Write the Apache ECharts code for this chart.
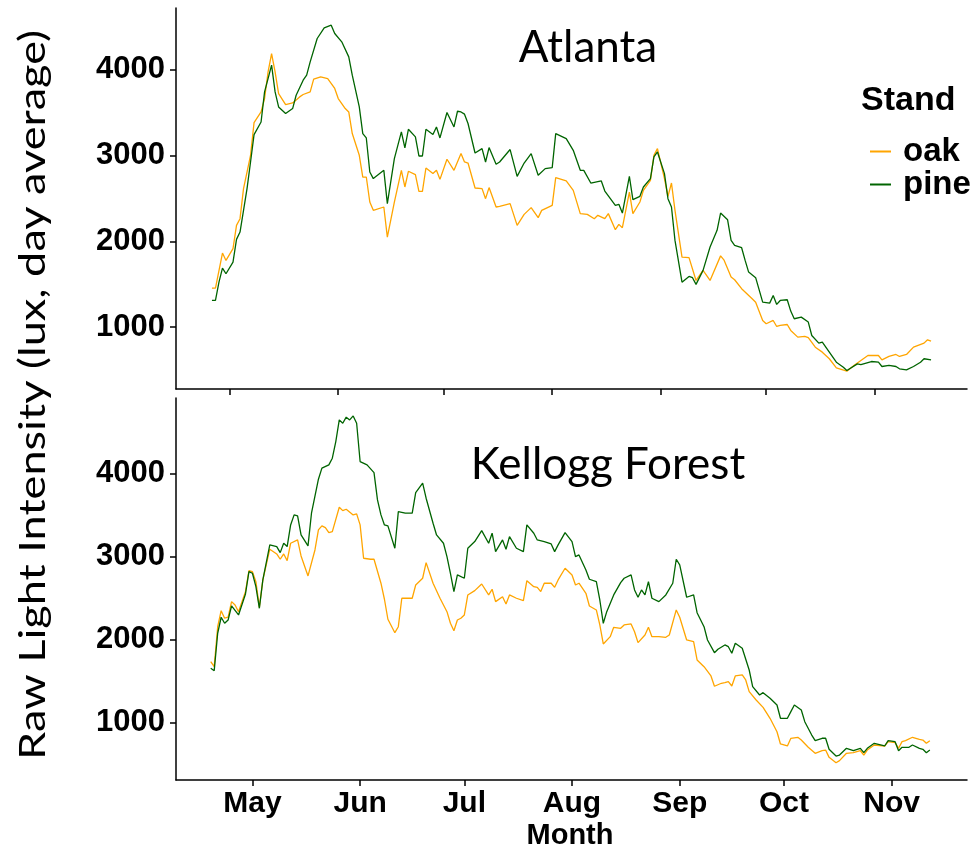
<!DOCTYPE html>
<html>
<head>
<meta charset="utf-8">
<script src="https://cdn.jsdelivr.net/npm/echarts@6/dist/echarts.min.js"></script>
<style>html,body{margin:0;padding:0;background:#fff}#c{width:976px;height:853px}</style>
</head>
<body>
<div id="c"></div>
<script>
// ---- data (day-average raw light intensity, lux) ----
const monthTickDates = ['2019-05-01','2019-06-01','2019-07-01','2019-08-01','2019-09-01','2019-10-01','2019-11-01'];
const monthTickLabels = ['May','Jun','Jul','Aug','Sep','Oct','Nov'];
const yTickValues = [1000, 2000, 3000, 4000];
const panelTitles = ['Atlanta', 'Kellogg Forest'];
const standNames = ['oak', 'pine'];

const atlantaOak = [
['2019-04-26',1455],['2019-04-27',1455],['2019-04-29',1863],['2019-04-30',1777],['2019-05-02',1914],['2019-05-03',2185],
['2019-05-04',2263],['2019-05-05',2613],['2019-05-07',3001],['2019-05-08',3382],['2019-05-10',3506],['2019-05-11',3662],
['2019-05-12',3972],['2019-05-13',4186],['2019-05-14',3972],['2019-05-15',3720],['2019-05-17',3592],['2019-05-19',3611],
['2019-05-21',3681],['2019-05-22',3709],['2019-05-24',3739],['2019-05-25',3887],['2019-05-27',3914],['2019-05-29',3895],
['2019-05-31',3779],['2019-06-01',3662],['2019-06-03',3545],['2019-06-04',3506],['2019-06-05',3254],['2019-06-07',3001],
['2019-06-08',2748],['2019-06-09',2748],['2019-06-10',2457],['2019-06-11',2360],['2019-06-14',2399],['2019-06-15',2049],
['2019-06-17',2457],['2019-06-19',2826],['2019-06-20',2632],['2019-06-21',2815],['2019-06-23',2776],['2019-06-24',2582],
['2019-06-25',2582],['2019-06-26',2853],['2019-06-28',2788],['2019-06-29',2826],['2019-06-30',2721],['2019-07-02',2955],
['2019-07-04',2826],['2019-07-06',3021],['2019-07-07',2923],['2019-07-08',2911],['2019-07-10',2620],['2019-07-12',2613],
['2019-07-13',2496],['2019-07-14',2625],['2019-07-16',2399],['2019-07-17',2407],['2019-07-20',2438],['2019-07-22',2185],
['2019-07-24',2313],['2019-07-26',2392],['2019-07-28',2275],['2019-07-29',2360],['2019-08-01',2418],['2019-08-02',2741],
['2019-08-05',2702],['2019-08-07',2593],['2019-08-09',2322],['2019-08-11',2313],['2019-08-13',2263],['2019-08-14',2302],
['2019-08-16',2263],['2019-08-17',2322],['2019-08-19',2135],['2019-08-20',2197],['2019-08-21',2158],['2019-08-23',2573],
['2019-08-24',2322],['2019-08-26',2457],['2019-08-27',2593],['2019-08-29',2710],['2019-08-30',3001],['2019-08-31',3079],
['2019-09-02',2730],['2019-09-03',2523],['2019-09-04',2678],['2019-09-05',2360],['2019-09-07',1816],['2019-09-09',1809],
['2019-09-11',1544],['2019-09-13',1661],['2019-09-15',1544],['2019-09-18',1830],['2019-09-19',1780],['2019-09-21',1583],
['2019-09-22',1552],['2019-09-24',1448],['2019-09-27',1331],['2019-09-28',1291],['2019-09-30',1078],['2019-10-01',1040],
['2019-10-03',1078],['2019-10-04',1008],['2019-10-05',1020],['2019-10-07',1031],['2019-10-08',962],['2019-10-10',884],
['2019-10-12',892],['2019-10-13',877],['2019-10-15',767],['2019-10-17',709],['2019-10-19',632],['2019-10-21',527],
['2019-10-24',487],['2019-10-26',554],['2019-10-28',612],['2019-10-30',670],['2019-11-02',670],['2019-11-03',620],
['2019-11-05',659],['2019-11-07',682],['2019-11-08',659],['2019-11-10',682],['2019-11-12',767],['2019-11-15',814],
['2019-11-16',853],['2019-11-17',837]
];
const atlantaPine = [
['2019-04-26',1311],['2019-04-27',1311],['2019-04-28',1524],['2019-04-29',1688],['2019-04-30',1622],['2019-05-02',1758],
['2019-05-03',2022],['2019-05-04',2107],['2019-05-06',2613],['2019-05-07',2923],['2019-05-08',3242],['2019-05-10',3389],
['2019-05-11',3739],['2019-05-13',4050],['2019-05-14',3739],['2019-05-15',3564],['2019-05-17',3487],['2019-05-19',3545],
['2019-05-20',3700],['2019-05-22',3875],['2019-05-23',3934],['2019-05-24',4089],['2019-05-26',4361],['2019-05-28',4485],
['2019-05-30',4516],['2019-05-31',4419],['2019-06-02',4322],['2019-06-04',4147],['2019-06-05',3934],['2019-06-07',3564],
['2019-06-08',3254],['2019-06-09',3203],['2019-06-10',2807],['2019-06-11',2730],['2019-06-14',2826],['2019-06-15',2438],
['2019-06-17',2963],['2019-06-19',3273],['2019-06-20',3087],['2019-06-21',3304],['2019-06-23',3215],['2019-06-24',2993],
['2019-06-25',2993],['2019-06-26',3304],['2019-06-28',3242],['2019-06-29',3331],['2019-06-30',3203],['2019-07-02',3499],
['2019-07-04',3331],['2019-07-05',3514],['2019-07-06',3506],['2019-07-07',3480],['2019-07-08',3371],['2019-07-10',3028],
['2019-07-12',3079],['2019-07-13',2923],['2019-07-14',3091],['2019-07-16',2896],['2019-07-17',2923],['2019-07-20',3068],
['2019-07-22',2756],['2019-07-24',2911],['2019-07-26',3021],['2019-07-28',2768],['2019-07-30',2846],['2019-08-01',2858],
['2019-08-02',3254],['2019-08-05',3196],['2019-08-07',3059],['2019-08-09',2826],['2019-08-10',2826],['2019-08-12',2678],
['2019-08-15',2702],['2019-08-16',2585],['2019-08-19',2418],['2019-08-20',2430],['2019-08-21',2329],['2019-08-23',2756],
['2019-08-24',2484],['2019-08-26',2523],['2019-08-27',2632],['2019-08-29',2730],['2019-08-30',2982],['2019-08-31',3040],
['2019-09-02',2788],['2019-09-03',2496],['2019-09-04',2399],['2019-09-05',2010],['2019-09-07',1524],['2019-09-09',1591],
['2019-09-10',1576],['2019-09-11',1498],['2019-09-13',1661],['2019-09-15',1933],['2019-09-17',2127],['2019-09-18',2329],
['2019-09-20',2250],['2019-09-21',2010],['2019-09-22',1952],['2019-09-24',1925],['2019-09-25',1777],['2019-09-26',1641],
['2019-09-28',1576],['2019-09-30',1291],['2019-10-02',1280],['2019-10-03',1369],['2019-10-04',1265],['2019-10-05',1311],
['2019-10-07',1319],['2019-10-08',1187],['2019-10-09',1098],['2019-10-11',1117],['2019-10-13',1059],['2019-10-14',903],
['2019-10-16',814],['2019-10-17',825],['2019-10-19',709],['2019-10-21',592],['2019-10-23',534],['2019-10-24',495],
['2019-10-27',573],['2019-10-28',565],['2019-10-31',600],['2019-11-02',592],['2019-11-03',542],['2019-11-05',554],
['2019-11-07',542],['2019-11-08',515],['2019-11-10',503],['2019-11-12',542],['2019-11-14',592],['2019-11-15',632],
['2019-11-17',620]
];
const kelloggOak = [
['2019-04-19',1736],['2019-04-20',1676],['2019-04-21',2158],['2019-04-22',2351],['2019-04-23',2260],['2019-04-24',2272],
['2019-04-25',2460],['2019-04-26',2420],['2019-04-27',2339],['2019-04-29',2581],['2019-04-30',2834],['2019-05-01',2822],
['2019-05-02',2701],['2019-05-03',2392],['2019-05-04',2722],['2019-05-06',3092],['2019-05-08',3035],['2019-05-09',2971],
['2019-05-10',3035],['2019-05-11',2955],['2019-05-12',3164],['2019-05-14',3204],['2019-05-15',3011],['2019-05-17',2770],
['2019-05-19',3083],['2019-05-20',3325],['2019-05-21',3373],['2019-05-22',3353],['2019-05-23',3292],['2019-05-24',3304],
['2019-05-26',3598],['2019-05-27',3557],['2019-05-28',3574],['2019-05-30',3506],['2019-05-31',3518],['2019-06-01',3385],
['2019-06-02',2983],['2019-06-04',2971],['2019-06-05',2971],['2019-06-07',2682],['2019-06-08',2489],['2019-06-09',2248],
['2019-06-11',2086],['2019-06-12',2158],['2019-06-13',2501],['2019-06-15',2501],['2019-06-16',2501],['2019-06-17',2661],
['2019-06-19',2742],['2019-06-20',2930],['2019-06-22',2682],['2019-06-24',2501],['2019-06-26',2339],['2019-06-27',2199],
['2019-06-28',2110],['2019-06-29',2239],['2019-06-30',2260],['2019-07-01',2300],['2019-07-02',2541],['2019-07-04',2593],
['2019-07-06',2673],['2019-07-08',2541],['2019-07-09',2609],['2019-07-10',2460],['2019-07-12',2520],['2019-07-13',2432],
['2019-07-14',2541],['2019-07-16',2501],['2019-07-18',2472],['2019-07-19',2713],['2019-07-21',2641],['2019-07-22',2633],
['2019-07-23',2581],['2019-07-24',2682],['2019-07-26',2682],['2019-07-27',2633],['2019-07-28',2722],['2019-07-30',2863],
['2019-08-01',2782],['2019-08-02',2661],['2019-08-03',2682],['2019-08-05',2561],['2019-08-06',2408],['2019-08-08',2360],
['2019-08-09',2179],['2019-08-10',1950],['2019-08-12',2038],['2019-08-13',2151],['2019-08-15',2139],['2019-08-16',2179],
['2019-08-18',2191],['2019-08-19',2098],['2019-08-20',1966],['2019-08-22',2058],['2019-08-23',2151],['2019-08-24',2038],
['2019-08-26',2038],['2019-08-28',2030],['2019-08-29',2058],['2019-08-31',2360],['2019-09-01',2272],['2019-09-03',1998],
['2019-09-05',1978],['2019-09-06',1757],['2019-09-08',1676],['2019-09-10',1564],['2019-09-11',1440],['2019-09-13',1476],
['2019-09-14',1483],['2019-09-15',1495],['2019-09-16',1443],['2019-09-17',1564],['2019-09-19',1576],['2019-09-20',1516],
['2019-09-21',1375],['2019-09-23',1274],['2019-09-25',1186],['2019-09-27',1054],['2019-09-29',892],['2019-09-30',744],
['2019-10-02',720],['2019-10-03',813],['2019-10-05',825],['2019-10-06',792],['2019-10-08',704],['2019-10-10',632],
['2019-10-12',663],['2019-10-13',671],['2019-10-14',583],['2019-10-16',518],['2019-10-17',543],['2019-10-19',632],
['2019-10-21',639],['2019-10-23',663],['2019-10-24',611],['2019-10-25',671],['2019-10-27',732],['2019-10-30',720],
['2019-10-31',772],['2019-11-02',760],['2019-11-03',692],['2019-11-04',772],['2019-11-05',784],['2019-11-07',825],
['2019-11-09',800],['2019-11-10',792],['2019-11-11',752],['2019-11-12',784]
];
const kelloggPine = [
['2019-04-19',1657],['2019-04-20',1628],['2019-04-21',2079],['2019-04-22',2272],['2019-04-23',2199],['2019-04-24',2239],
['2019-04-25',2408],['2019-04-27',2300],['2019-04-29',2553],['2019-04-30',2822],['2019-05-01',2802],['2019-05-02',2641],
['2019-05-03',2380],['2019-05-04',2722],['2019-05-06',3144],['2019-05-08',3124],['2019-05-09',3051],['2019-05-10',3164],
['2019-05-11',3124],['2019-05-12',3385],['2019-05-13',3506],['2019-05-14',3494],['2019-05-15',3264],['2019-05-17',3132],
['2019-05-18',3526],['2019-05-20',3936],['2019-05-21',4069],['2019-05-23',4109],['2019-05-24',4189],['2019-05-25',4390],
['2019-05-26',4651],['2019-05-27',4611],['2019-05-28',4684],['2019-05-29',4651],['2019-05-30',4699],['2019-05-31',4611],
['2019-06-01',4149],['2019-06-03',4109],['2019-06-05',4016],['2019-06-06',3686],['2019-06-07',3506],['2019-06-08',3385],
['2019-06-09',3373],['2019-06-11',3104],['2019-06-12',3545],['2019-06-14',3526],['2019-06-16',3526],['2019-06-17',3775],
['2019-06-19',3888],['2019-06-20',3707],['2019-06-22',3405],['2019-06-23',3264],['2019-06-25',3164],['2019-06-26',3003],
['2019-06-27',2802],['2019-06-28',2581],['2019-06-29',2782],['2019-07-01',2742],['2019-07-02',3104],['2019-07-04',3184],
['2019-07-06',3316],['2019-07-08',3164],['2019-07-09',3285],['2019-07-10',3063],['2019-07-12',3204],['2019-07-13',3092],
['2019-07-14',3244],['2019-07-16',3104],['2019-07-18',3063],['2019-07-19',3385],['2019-07-21',3285],['2019-07-22',3204],
['2019-07-24',3184],['2019-07-26',3156],['2019-07-27',3063],['2019-07-28',3144],['2019-07-30',3292],['2019-08-01',3184],
['2019-08-02',3003],['2019-08-03',3023],['2019-08-05',2842],['2019-08-06',2730],['2019-08-08',2701],['2019-08-09',2480],
['2019-08-10',2199],['2019-08-11',2339],['2019-08-13',2541],['2019-08-15',2689],['2019-08-16',2742],['2019-08-18',2782],
['2019-08-19',2601],['2019-08-20',2513],['2019-08-21',2601],['2019-08-22',2541],['2019-08-23',2701],['2019-08-24',2501],
['2019-08-26',2460],['2019-08-28',2541],['2019-08-30',2682],['2019-08-31',2971],['2019-09-01',2903],['2019-09-03',2513],
['2019-09-05',2541],['2019-09-06',2327],['2019-09-08',2158],['2019-09-09',1998],['2019-09-11',1845],['2019-09-12',1886],
['2019-09-14',1938],['2019-09-15',1917],['2019-09-16',1838],['2019-09-17',1958],['2019-09-19',1898],['2019-09-21',1636],
['2019-09-22',1435],['2019-09-24',1335],['2019-09-25',1363],['2019-09-27',1295],['2019-09-29',1214],['2019-09-30',1054],
['2019-10-02',1054],['2019-10-03',1134],['2019-10-04',1214],['2019-10-06',1154],['2019-10-07',1013],['2019-10-09',852],
['2019-10-10',784],['2019-10-12',813],['2019-10-13',813],['2019-10-14',680],['2019-10-16',599],['2019-10-17',611],
['2019-10-19',692],['2019-10-21',663],['2019-10-23',692],['2019-10-24',639],['2019-10-25',692],['2019-10-27',752],
['2019-10-30',720],['2019-10-31',784],['2019-11-02',772],['2019-11-03',663],['2019-11-04',704],['2019-11-06',704],
['2019-11-07',732],['2019-11-09',692],['2019-11-10',680],['2019-11-11',639],['2019-11-12',671]
];

// ---- helpers / layout ----
const DAY = 86400000;
function ts(s) { const p = s.split('-'); return Date.UTC(+p[0], +p[1] - 1, +p[2]); }
function toSeries(arr) { return arr.map(d => [ts(d[0]), d[1]]); }
const may1 = ts('2019-05-01');
const monthTicks = monthTickDates.map(ts);
const xRange = [
  { min: may1 - 15.25 * DAY, max: may1 + 210.25 * DAY },
  { min: may1 - 22.0 * DAY, max: may1 + 205.7 * DAY }
];
const yRange = [ { min: 280, max: 4716 }, { min: 310, max: 4915 } ];
const OAK = '#FFA500', PINE = '#006400';
const tickFont = 'Liberation Sans, Arial, sans-serif';
const axisLineStyle = { color: '#000', width: 1.5 };

function monthLabel(v) {
  for (let i = 0; i < monthTicks.length; i++) if (Math.abs(monthTicks[i] - v) < DAY) return monthTickLabels[i];
  return '';
}

function xAxis(i, showLabel) {
  return {
    gridIndex: i, type: 'value', min: xRange[i].min, max: xRange[i].max,
    axisLine: { show: true, onZero: false, lineStyle: axisLineStyle },
    axisTick: { show: true, length: 6, customValues: monthTicks, lineStyle: axisLineStyle },
    axisLabel: { show: showLabel, customValues: monthTicks, formatter: monthLabel, color: '#000',
      fontSize: 30, fontWeight: 'bold', fontFamily: tickFont, margin: 9 },
    splitLine: { show: false }
  };
}
function yAxis(i) {
  return {
    gridIndex: i, type: 'value', min: yRange[i].min, max: yRange[i].max,
    axisLine: { show: true, onZero: false, lineStyle: axisLineStyle },
    axisTick: { show: true, length: 6, customValues: yTickValues, lineStyle: axisLineStyle },
    axisLabel: { customValues: yTickValues, formatter: v => String(v), color: '#000', fontSize: 31, fontWeight: 'bold',
      fontFamily: tickFont, margin: 11 },
    splitLine: { show: false }
  };
}
function line(name, data, idx, color) {
  return { name: name, type: 'line', xAxisIndex: idx, yAxisIndex: idx, data: toSeries(data),
    showSymbol: false, symbol: 'none', color: color, lineStyle: { color: color, width: 1.3 },
    animation: false, z: name === 'pine' ? 3 : 2 };
}

const chart = echarts.init(document.getElementById('c'), null, { renderer: 'canvas' });
chart.setOption({
  backgroundColor: '#fff',
  animation: false,
  grid: [
    { left: 176, right: 9, top: 8, height: 381, containLabel: false, outerBoundsMode: 'none' },
    { left: 176, right: 9, top: 398, height: 382, containLabel: false, outerBoundsMode: 'none' }
  ],
  xAxis: [xAxis(0, false), xAxis(1, true)],
  yAxis: [yAxis(0), yAxis(1)],
  legend: {
    data: standNames, orient: 'vertical', left: 865, top: 130, icon: 'rect',
    itemWidth: 21, itemHeight: 2, itemGap: 0,
    textStyle: { fontSize: 33, fontWeight: 'bold', color: '#000', fontFamily: tickFont, padding: [0, 0, 0, 7] }
  },
  series: [
    line(standNames[0], atlantaOak, 0, OAK),
    line(standNames[1], atlantaPine, 0, PINE),
    line(standNames[0], kelloggOak, 1, OAK),
    line(standNames[1], kelloggPine, 1, PINE)
  ],
  graphic: [
    { type: 'text', left: 861, top: 84, style: { text: 'Stand', fontSize: 34, fontWeight: 'bold', fontFamily: tickFont, fill: '#000' } },
    { type: 'text', x: 588, y: 48, style: { text: panelTitles[0], fontSize: 44, fontFamily: 'Lato, Open Sans, sans-serif', fill: '#000', align: 'center', verticalAlign: 'middle' } },
    { type: 'text', x: 608, y: 465, style: { text: panelTitles[1], fontSize: 44, fontFamily: 'Lato, Open Sans, sans-serif', fill: '#000', align: 'center', verticalAlign: 'middle' } },
    { type: 'text', x: 570, y: 836, style: { text: 'Month', fontSize: 29, fontWeight: 'bold', fontFamily: tickFont, fill: '#000', align: 'center', verticalAlign: 'middle' } },
    { type: 'text', x: 33, y: 395, rotation: Math.PI / 2, scaleX: 1.22, style: { text: 'Raw Light Intensity (lux, day average)', fontSize: 37, fontFamily: 'Lato, Open Sans, sans-serif', fill: '#000', align: 'center', verticalAlign: 'middle' } }
  ]
});
</script>
</body>
</html>
